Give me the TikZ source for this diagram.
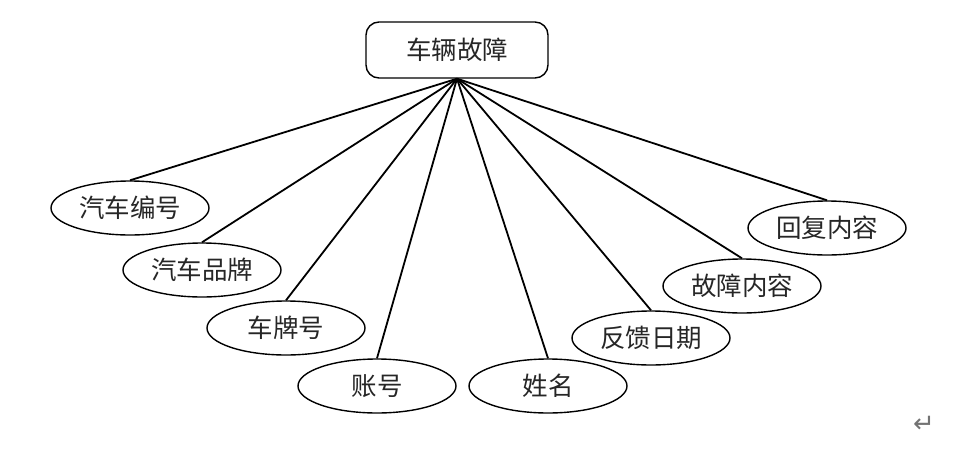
\documentclass[tikz,border=0pt]{standalone}
\usepackage{fontspec}
\newfontfamily\cjk{Noto Sans CJK SC}
\newfontfamily\sym{DejaVu Sans}
\usetikzlibrary{shapes.geometric}
\begin{document}
\begin{tikzpicture}[x=1pt,y=-1pt,
  attr/.style={draw=black,line width=1.4pt,ellipse,minimum width=158pt,minimum height=54pt,inner sep=0pt,font=\cjk\fontsize{25.5}{28}\selectfont,text=black!85},
  entity/.style={draw=black,line width=1.4pt,rounded corners=13pt,minimum width=182pt,minimum height=56pt,inner sep=0pt,font=\cjk\fontsize{25.5}{28}\selectfont,text=black!85},
  link/.style={line width=1.8pt,black}]
\useasboundingbox (0,0) rectangle (971,464);
\node[entity] (e) at (457,50) {车辆故障};
\node[attr] (a1) at (130,208) {汽车编号};
\node[attr] (a2) at (202,270) {汽车品牌};
\node[attr] (a3) at (286,328) {车牌号};
\node[attr] (a4) at (377,386) {账号};
\node[attr] (a5) at (548,386) {姓名};
\node[attr] (a6) at (651,338) {反馈日期};
\node[attr] (a7) at (742,286) {故障内容};
\node[attr] (a8) at (827,228) {回复内容};
\foreach \n in {a1,a2,a3,a4,a5,a6,a7,a8}
  \draw[link] (e.south) -- (\n.north);
\node[font=\sym\fontsize{26}{28}\selectfont,text=black!55] (ret) at (924,424) {↵};
\end{tikzpicture}
\end{document}
